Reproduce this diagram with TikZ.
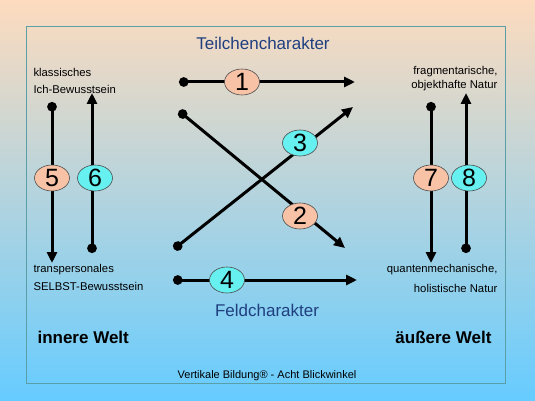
\documentclass[tikz,border=0pt]{standalone}
\usepackage{fontspec}
\setmainfont{Liberation Sans}
\usetikzlibrary{arrows.meta,shapes.geometric}
\definecolor{peach}{HTML}{FDDBBE}
\definecolor{midc}{HTML}{C4D6E2}
\definecolor{skyb}{HTML}{66CCFF}
\definecolor{framec}{HTML}{5A9FA8}
\definecolor{salmonf}{HTML}{F8C2A6}
\definecolor{cyanf}{HTML}{66F0F0}
\definecolor{titleblue}{HTML}{1F3F7F}
\tikzset{
  conn/.style={line width=3pt, {Circle[length=9.5pt]}-{Triangle[length=11pt,width=10pt]}},
  numbox/.style={ellipse, draw=black!70, line width=0.6pt, minimum width=35pt, minimum height=26pt, inner sep=0pt, font=\fontsize{25}{25}\selectfont},
  salm/.style={numbox, fill=salmonf},
  cyn/.style={numbox, fill=cyanf},
  small/.style={font=\fontsize{11.3}{11.3}\selectfont},
  heading/.style={font=\fontsize{17}{17}\selectfont, text=titleblue},
  world/.style={font=\fontsize{17}{17}\selectfont\bfseries}
}
\begin{document}
\begin{tikzpicture}[x=1pt,y=-1pt]
\useasboundingbox (0,0) rectangle (535,401);
\shade[top color=peach, middle color=midc, bottom color=skyb] (0,0) rectangle (535,401);
\draw[framec, line width=1pt] (26,27) rectangle (505,383);

\node[heading] (tc) at (263,43) {Teilchencharakter};
\node[heading] (fc) at (267,310) {Feldcharakter};

\node[small, anchor=west] (kl) at (30,72) {klassisches};
\node[small, anchor=west] (ich) at (30,89) {Ich-Bewusstsein};
\node[small, anchor=east] (fr) at (501,72) {fragmentarische,};
\node[small, anchor=east] (ob) at (501,86) {objekthafte Natur};
\node[small, anchor=west] (tr) at (30,270) {transpersonales};
\node[small, anchor=west] (se) at (30,286) {SELBST-Bewusstsein};
\node[small, anchor=east] (qu) at (501,270) {quantenmechanische,};
\node[small, anchor=east] (ho) at (501,288) {holistische Natur};

\node[world, anchor=west] (iw) at (34,337) {innere Welt};
\node[world, anchor=east] (aw) at (495,337) {äußere Welt};
\node[font=\fontsize{11}{11}\selectfont] (ft) at (267,376) {Vertikale Bildung® - Acht Blickwinkel};

% endpoints
\coordinate (s1) at (179,82);  \coordinate (e1) at (355,82);
\coordinate (s2) at (179,111); \coordinate (e2) at (345,248);
\coordinate (s3) at (174,249); \coordinate (e3) at (353,107);
\coordinate (s4) at (173,280); \coordinate (e4) at (357,280);
\coordinate (s5) at (52,102);  \coordinate (e5) at (52,263);
\coordinate (s6) at (92,253);  \coordinate (e6) at (92,93);
\coordinate (s7) at (431,102); \coordinate (e7) at (431,263);
\coordinate (s8) at (466,253); \coordinate (e8) at (466,93);

\draw[conn] (s1) -- (e1);
\draw[conn] (s2) -- (e2);
\draw[conn] (s3) -- (e3);
\draw[conn] (s4) -- (e4);
\draw[conn] (s5) -- (e5);
\draw[conn] (s6) -- (e6);
\draw[conn] (s7) -- (e7);
\draw[conn] (s8) -- (e8);

\node[salm] (n1) at (242,82) {1};
\node[salm] (n2) at (300,216) {2};
\node[cyn]  (n3) at (300,143) {3};
\node[cyn]  (n4) at (227,280) {4};
\node[salm] (n5) at (52,178) {5};
\node[cyn]  (n6) at (95,178) {6};
\node[salm] (n7) at (431,178) {7};
\node[cyn]  (n8) at (469,178) {8};
\end{tikzpicture}
\end{document}
